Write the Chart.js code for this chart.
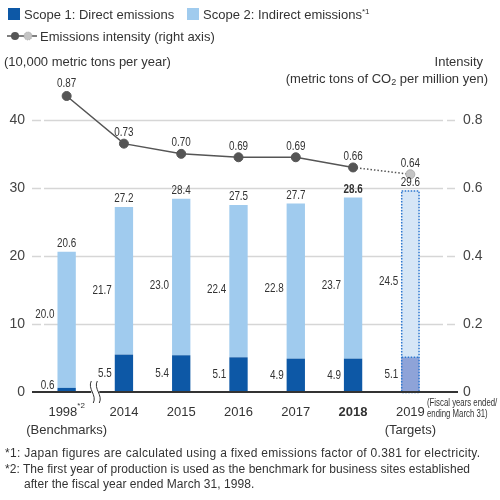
<!DOCTYPE html>
<html>
<head>
<meta charset="utf-8">
<script src="https://cdn.jsdelivr.net/npm/chart.js@4.4.1/dist/chart.umd.min.js"></script>
<style>
  html, body { margin: 0; padding: 0; background: #fff; }
  body { width: 500px; height: 500px; position: relative; overflow: hidden;
         font-family: "Liberation Sans", Arial, Helvetica, sans-serif; color: #333; }
  #wrap { position: absolute; left: 0; top: 0; width: 500px; height: 500px; }
  .txt { position: absolute; white-space: nowrap; font-size: 13px; line-height: 1; }
  .sw { display: inline-block; width: 12px; height: 12px; vertical-align: -1px; margin-right: 4px; }
  sup { font-size: 8px; vertical-align: 5px; }
  sub { font-size: 9px; vertical-align: -2px; }
  .note { position: absolute; left: 5px; font-size: 12px; line-height: 15px; white-space: nowrap; }
  .fy { position: absolute; left: 427px; top: 397px; font-size: 10px; line-height: 11px;
        transform: scaleX(0.78); transform-origin: 0 0; white-space: nowrap; }
</style>
</head>
<body>
<div id="wrap"><canvas id="grafico" width="500" height="500"></canvas></div>

<!-- legenda -->
<div class="txt" style="left:8px; top:8px;"><span class="sw" style="background:#0d58a6"></span>Scope 1: Direct emissions</div>
<div class="txt" style="left:187px; top:8px;"><span class="sw" style="background:#a0cbee"></span>Scope 2: Indirect emissions<sup>*1</sup></div>
<div class="txt" style="left:6px; top:30px;">
  <svg width="32" height="12" style="vertical-align:-1px; margin-right:2px">
    <line x1="1" y1="6" x2="31" y2="6" stroke="#555" stroke-width="1.5"/>
    <circle cx="9" cy="6" r="4" fill="#555"/>
    <circle cx="22" cy="6" r="4" fill="#c4c4c4" stroke="#aaa" stroke-dasharray="1 1"/>
  </svg>Emissions intensity (right axis)</div>

<!-- títulos dos eixos -->
<div class="txt" style="left:4px; top:55px;">(10,000 metric tons per year)</div>
<div class="txt" style="right:17px; top:55px;">Intensity</div>
<div class="txt" style="right:12px; top:72px;">(metric tons of CO<sub>2</sub> per million yen)</div>

<div class="fy">(Fiscal years ended/<br>ending March 31)</div>

<!-- notas -->
<div class="note" style="top:446px; letter-spacing:0.3px;">*1: Japan figures are calculated using a fixed emissions factor of 0.381 for electricity.</div>
<div class="note" style="top:462px; letter-spacing:0.05px;">*2: The first year of production is used as the benchmark for business sites established<br><span style="padding-left:19px">after the fiscal year ended March 31, 1998.</span></div>

<script>
// Dados do gráfico
const categorias = ['1998', '2014', '2015', '2016', '2017', '2018', '2019'];
const sobrescritos = ['*2', '', '', '', '', '', ''];
const subtitulos = ['(Benchmarks)', '', '', '', '', '', '(Targets)'];
const escopo1 = [0.6, 5.5, 5.4, 5.1, 4.9, 4.9, 5.1];
const escopo2 = [20.0, 21.7, 23.0, 22.4, 22.8, 23.7, 24.5];
const totais = [20.6, 27.2, 28.4, 27.5, 27.7, 28.6, 29.6];
const intensidade = [0.87, 0.73, 0.70, 0.69, 0.69, 0.66, 0.64];
const ticksEsquerda = [0, 10, 20, 30, 40];
const ticksDireita = [0, 0.2, 0.4, 0.6, 0.8];

const idxMeta = 6;      // 2019 = metas
const idxDestaque = 5;  // 2018 em negrito

const corEscopo1 = categorias.map((c, i) => i === idxMeta ? '#8ea3d8' : '#0d58a6');
const corEscopo2 = categorias.map((c, i) => i === idxMeta ? '#d6e6f6' : '#a0cbee');

const fonteNum = '13px "Liberation Sans", Arial, sans-serif';
const fonteEixo = '14px "Liberation Sans", Arial, sans-serif';

// Texto estreito (a fonte original é condensada)
function textoEstreito(ctx, texto, x, y, alinhamento) {
    ctx.save();
    ctx.translate(x, y);
    ctx.scale(0.76, 1);
    ctx.textAlign = alinhamento;
    ctx.fillText(texto, 0, 0);
    ctx.restore();
}

// Plugin: grade, rótulos, eixos e quebra do eixo
const pluginDesenho = {
    id: 'desenho',
    beforeDatasetsDraw(chart) {
        const ctx = chart.ctx;
        const y = chart.scales.y;
        ctx.save();
        ticksEsquerda.forEach(v => {
            if (v === 0) return;
            const py = Math.round(y.getPixelForValue(v)) + 0.5;
            ctx.strokeStyle = '#d6d6d6';
            ctx.lineWidth = 1.5;
            [[32, 41], [44, 443], [447, 455]].forEach(([a, b]) => {
                ctx.beginPath(); ctx.moveTo(a, py); ctx.lineTo(b, py); ctx.stroke();
            });
        });
        ctx.restore();
    },
    afterDatasetsDraw(chart) {
        const ctx = chart.ctx;
        const y = chart.scales.y;
        const y1 = chart.scales.y1;
        const x = chart.scales.x;
        const m1 = chart.getDatasetMeta(0);
        const m2 = chart.getDatasetMeta(1);
        const m3 = chart.getDatasetMeta(2);
        ctx.save();

        // Borda pontilhada da barra de metas
        const b1 = m1.data[idxMeta], b2 = m2.data[idxMeta];
        const esq = b1.x - b1.width / 2 + 0.5, dir = b1.x + b1.width / 2 - 0.5;
        ctx.strokeStyle = '#2f78cf';
        ctx.lineWidth = 1.5;
        ctx.setLineDash([1.5, 1.5]);
        ctx.strokeRect(esq, b2.y + 0.5, dir - esq, b1.base - b2.y);
        ctx.beginPath(); ctx.moveTo(esq, b1.y); ctx.lineTo(dir, b1.y); ctx.stroke();
        ctx.setLineDash([]);

        // Linha de base
        const py0 = Math.round(y.getPixelForValue(0));
        ctx.strokeStyle = '#333';
        ctx.lineWidth = 2;
        ctx.beginPath(); ctx.moveTo(32, py0); ctx.lineTo(458, py0); ctx.stroke();

        // Quebra do eixo entre 1998 e 2014
        const xq = (x.getPixelForValue(0) + x.getPixelForValue(1)) / 2;
        ctx.fillStyle = '#fff';
        ctx.fillRect(xq - 4, py0 - 3, 8, 6);
        ctx.strokeStyle = '#333';
        ctx.lineWidth = 1;
        [-3, 3].forEach(d => {
            ctx.beginPath();
            ctx.moveTo(xq + d - 1, py0 - 11);
            ctx.bezierCurveTo(xq + d - 5, py0 - 3, xq + d + 5, py0 + 3, xq + d + 1, py0 + 11);
            ctx.stroke();
        });

        // Rótulos das barras
        ctx.fillStyle = '#333';
        ctx.textBaseline = 'middle';
        categorias.forEach((c, i) => {
            const bar = m1.data[i];
            const left = bar.x - bar.width / 2;
            ctx.font = (i === idxDestaque ? 'bold ' : '') + fonteNum;
            textoEstreito(ctx, totais[i].toFixed(1), bar.x, m2.data[i].y - 8, 'center');
            ctx.font = fonteNum;
            textoEstreito(ctx, escopo2[i].toFixed(1), left - 3, y.getPixelForValue(totais[i] * 0.55), 'right');
            textoEstreito(ctx, escopo1[i].toFixed(1), left - 3, y.getPixelForValue(Math.max(escopo1[i] / 2, 0.9)), 'right');
        });

        // Rótulos da intensidade
        m3.data.forEach((p, i) => {
            textoEstreito(ctx, intensidade[i].toFixed(2), p.x, p.y - (i === 0 ? 13 : 11), 'center');
        });

        // Ticks dos eixos
        ctx.fillStyle = '#444';
        ctx.font = fonteEixo;
        ctx.textAlign = 'right';
        ticksEsquerda.forEach(v => ctx.fillText(String(v), 25, y.getPixelForValue(v)));
        ctx.textAlign = 'left';
        ticksDireita.forEach(v => ctx.fillText(v === 0 ? '0' : v.toFixed(1), 463, y1.getPixelForValue(v)));

        // Rótulos do eixo x
        ctx.fillStyle = '#333';
        categorias.forEach((c, i) => {
            const px = x.getPixelForValue(i);
            const fonteCat = (i === idxDestaque ? 'bold ' : '') + '13px "Liberation Sans", Arial, sans-serif';
            ctx.font = fonteCat;
            const w = ctx.measureText(c).width;
            ctx.font = '8px "Liberation Sans", Arial, sans-serif';
            const ws = sobrescritos[i] ? ctx.measureText(sobrescritos[i]).width : 0;
            const x0 = px - (w + ws) / 2;
            ctx.textAlign = 'left';
            ctx.font = fonteCat;
            ctx.fillText(c, x0, 412);
            if (ws) {
                ctx.font = '8px "Liberation Sans", Arial, sans-serif';
                ctx.fillText(sobrescritos[i], x0 + w, 406);
            }
            if (subtitulos[i]) {
                ctx.font = '13px "Liberation Sans", Arial, sans-serif';
                ctx.textAlign = 'center';
                ctx.fillText(subtitulos[i], px, 430);
            }
        });
        ctx.restore();
    }
};

const ctx = document.getElementById('grafico').getContext('2d');
new Chart(ctx, {
    type: 'bar',
    data: {
        labels: categorias,
        datasets: [
            {
                label: 'Scope 1: Direct emissions',
                data: escopo1,
                backgroundColor: corEscopo1,
                yAxisID: 'y',
                order: 2,
                barPercentage: 0.32,
                categoryPercentage: 1
            },
            {
                label: 'Scope 2: Indirect emissions',
                data: escopo2,
                backgroundColor: corEscopo2,
                yAxisID: 'y',
                order: 2,
                barPercentage: 0.32,
                categoryPercentage: 1
            },
            {
                type: 'line',
                label: 'Emissions intensity (right axis)',
                data: intensidade,
                yAxisID: 'y1',
                order: 0,
                borderColor: '#555',
                borderWidth: 1.5,
                pointRadius: 4.5,
                pointBackgroundColor: categorias.map((c, i) => i === idxMeta ? '#c4c4c4' : '#555'),
                pointBorderColor: categorias.map((c, i) => i === idxMeta ? '#b0b0b0' : '#555'),
                pointBorderWidth: 1,
                segment: {
                    borderDash: s => s.p1DataIndex === idxMeta ? [1.5, 2] : undefined
                }
            }
        ]
    },
    options: {
        responsive: false,
        animation: false,
        devicePixelRatio: 1,
        layout: { padding: { left: 38, right: 61, top: 79, bottom: 108 } },
        plugins: { legend: { display: false }, tooltip: { enabled: false } },
        scales: {
            x: { display: false, stacked: true, offset: true, grid: { display: false } },
            y: { display: false, stacked: true, min: 0, max: 46 },
            y1: { display: false, min: 0, max: 0.92 }
        }
    },
    plugins: [pluginDesenho]
});
</script>
</body>
</html>
